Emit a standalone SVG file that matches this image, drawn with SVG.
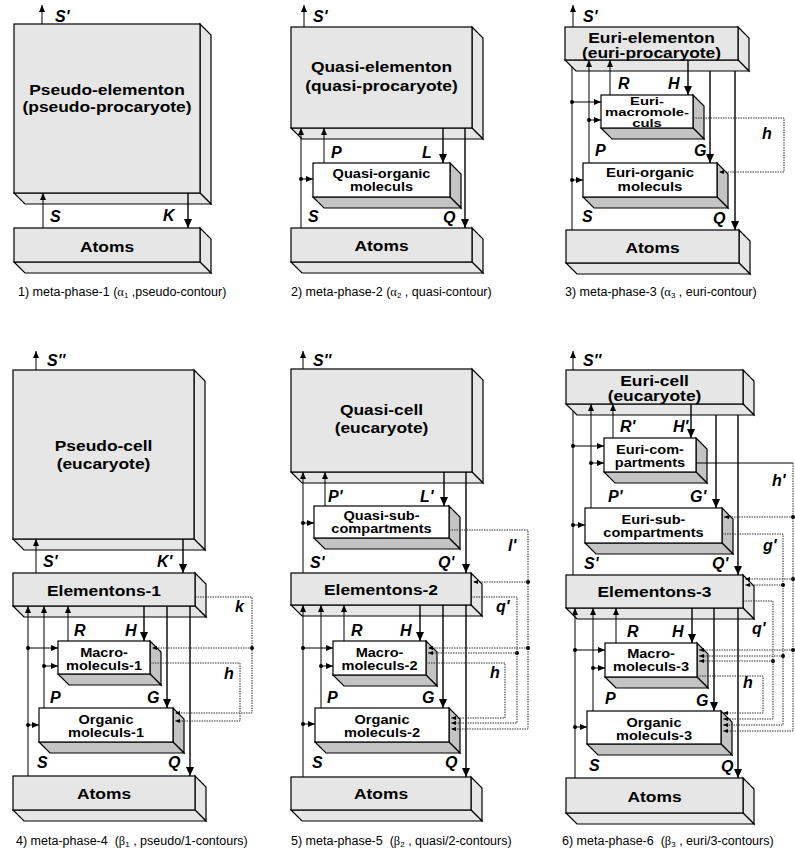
<svg xmlns="http://www.w3.org/2000/svg" width="795" height="854" viewBox="0 0 795 854">
<style>
.g{fill:#e6e6e6;stroke:#000;stroke-width:1.2}
.w{fill:#fff;stroke:#000;stroke-width:1.2}
.ws{fill:#c4c4c4;stroke:#000;stroke-width:1.2}
.ln{fill:none;stroke:#000;stroke-width:1}
.lt{fill:none;stroke:#000;stroke-width:1.4}
.dl{fill:none;stroke:#333;stroke-width:1;stroke-dasharray:1.5 1}
.dot{fill:#000}
text{font-family:"Liberation Sans",Arial,sans-serif;fill:#000}
.t1{font-size:15px;font-weight:bold;text-anchor:middle}
.t2{font-size:13px;font-weight:bold;text-anchor:middle}
.t3{font-size:11px;font-weight:bold;text-anchor:middle}
.lb{font-size:16px;font-weight:bold;font-style:italic}
.cp{font-size:12.5px}
.gr{font-family:"Liberation Serif",serif}
</style>
<defs>
<marker id="ad" viewBox="0 0 9 8" refX="9" refY="4" markerWidth="9" markerHeight="8" markerUnits="userSpaceOnUse" orient="auto"><path d="M0,0L9,4L0,8z"/></marker>
<marker id="au" viewBox="0 0 7 6" refX="7" refY="3" markerWidth="7" markerHeight="6" markerUnits="userSpaceOnUse" orient="auto"><path d="M0,0L7,3L0,6z"/></marker>
<marker id="af" viewBox="0 0 5 4" refX="5" refY="2" markerWidth="5" markerHeight="4" markerUnits="userSpaceOnUse" orient="auto"><path d="M0,0L5,2L0,4z"/></marker>
</defs>

<!-- PANEL 1 -->
<g id="p1-elementon">
<polygon class="g" points="200,24 211,35 211,204 200,193"/><polygon class="g" points="14,193 200,193 211,204 25,204"/><rect class="g" x="14" y="24" width="186" height="169"/>
<text class="t1" transform="translate(107 0) scale(1.16 1)" y="95">Pseudo-elementon</text>
<text class="t1" transform="translate(107 0) scale(1.16 1)" y="112">(pseudo-procaryote)</text>
</g>
<g id="p1-atoms">
<polygon class="g" points="200,228 211,239 211,273 200,262"/><polygon class="g" points="14,262 200,262 211,273 25,273"/><rect class="g" x="14" y="228" width="186" height="34"/>
<text class="t1" transform="translate(107 0) scale(1.16 1)" y="252">Atoms</text>
</g>

<!-- PANEL 2 -->
<g id="p2-elementon">
<polygon class="g" points="472,27 483,38 483,139 472,128"/><polygon class="g" points="291,128 472,128 483,139 302,139"/><rect class="g" x="291" y="27" width="181" height="101"/>
<text class="t1" transform="translate(381.5 0) scale(1.16 1)" y="72">Quasi-elementon</text>
<text class="t1" transform="translate(381.5 0) scale(1.16 1)" y="91">(quasi-procaryote)</text>
</g>
<g id="p2-organic">
<polygon class="ws" points="450,163 461,174 461,208 450,197"/><polygon class="ws" points="313,197 450,197 461,208 324,208"/><rect class="w" x="313" y="163" width="137" height="34"/>
<text class="t2" transform="translate(381.5 0) scale(1.12 1)" y="178">Quasi-organic</text>
<text class="t2" transform="translate(381.5 0) scale(1.12 1)" y="191">moleculs</text>
</g>
<g id="p2-atoms">
<polygon class="g" points="472,228 483,239 483,273 472,262"/><polygon class="g" points="291,262 472,262 483,273 302,273"/><rect class="g" x="291" y="228" width="181" height="34"/>
<text class="t1" transform="translate(381.5 0) scale(1.16 1)" y="251">Atoms</text>
</g>

<!-- PANEL 3 -->
<g id="p3-elementon">
<polygon class="g" points="738,27 749,38 749,71 738,60"/><polygon class="g" points="565,60 738,60 749,71 576,71"/><rect class="g" x="565" y="27" width="173" height="33"/>
<text class="t1" transform="translate(651.5 0) scale(1.16 1)" y="43">Euri-elementon</text>
<text class="t1" transform="translate(651.5 0) scale(1.16 1)" y="58">(euri-procaryote)</text>
</g>
<g id="p3-macro">
<polygon class="ws" points="693,95 704,106 704,139 693,128"/><polygon class="ws" points="601,128 693,128 704,139 612,139"/><rect class="w" x="601" y="95" width="92" height="33"/>
<text class="t3" transform="translate(647 0) scale(1.35 1)" y="105">Euri-</text>
<text class="t3" transform="translate(647 0) scale(1.35 1)" y="116">macromole-</text>
<text class="t3" transform="translate(647 0) scale(1.35 1)" y="127">culs</text>
</g>
<g id="p3-organic">
<polygon class="ws" points="717,163 728,174 728,208 717,197"/><polygon class="ws" points="583,197 717,197 728,208 594,208"/><rect class="w" x="583" y="163" width="134" height="34"/>
<text class="t2" transform="translate(650 0) scale(1.15 1)" y="177">Euri-organic</text>
<text class="t2" transform="translate(650 0) scale(1.15 1)" y="191">moleculs</text>
</g>
<g id="p3-atoms">
<polygon class="g" points="739,230 750,241 750,274 739,263"/><polygon class="g" points="566,263 739,263 750,274 577,274"/><rect class="g" x="566" y="230" width="173" height="33"/>
<text class="t1" transform="translate(652.5 0) scale(1.16 1)" y="253">Atoms</text>
</g>

<!-- PANEL 4 -->
<g id="p4-cell">
<polygon class="g" points="194,370 205,381 205,550 194,539"/><polygon class="g" points="13,539 194,539 205,550 24,550"/><rect class="g" x="13" y="370" width="181" height="169"/>
<text class="t1" transform="translate(103.5 0) scale(1.16 1)" y="451">Pseudo-cell</text>
<text class="t1" transform="translate(103.5 0) scale(1.16 1)" y="469">(eucaryote)</text>
</g>
<g id="p4-elementons">
<polygon class="g" points="195,573 206,584 206,617 195,606"/><polygon class="g" points="13,606 195,606 206,617 24,617"/><rect class="g" x="13" y="573" width="182" height="33"/>
<text class="t1" transform="translate(104 0) scale(1.16 1)" y="596">Elementons-1</text>
</g>
<g id="p4-macro">
<polygon class="ws" points="150,641 161,652 161,685 150,674"/><polygon class="ws" points="58,674 150,674 161,685 69,685"/><rect class="w" x="58" y="641" width="92" height="33"/>
<text class="t2" transform="translate(104 0) scale(1.12 1)" y="657">Macro-</text>
<text class="t2" transform="translate(104 0) scale(1.12 1)" y="670">moleculs-1</text>
</g>
<g id="p4-organic">
<polygon class="ws" points="173,708 184,719 184,753 173,742"/><polygon class="ws" points="39,742 173,742 184,753 50,753"/><rect class="w" x="39" y="708" width="134" height="34"/>
<text class="t2" transform="translate(106 0) scale(1.12 1)" y="724">Organic</text>
<text class="t2" transform="translate(106 0) scale(1.12 1)" y="737">moleculs-1</text>
</g>
<g id="p4-atoms">
<polygon class="g" points="195,776 206,787 206,821 195,810"/><polygon class="g" points="13,810 195,810 206,821 24,821"/><rect class="g" x="13" y="776" width="182" height="34"/>
<text class="t1" transform="translate(104 0) scale(1.16 1)" y="799">Atoms</text>
</g>

<!-- PANEL 5 -->
<g id="p5-cell">
<polygon class="g" points="472,369 483,380 483,483 472,472"/><polygon class="g" points="291,472 472,472 483,483 302,483"/><rect class="g" x="291" y="369" width="181" height="103"/>
<text class="t1" transform="translate(381.5 0) scale(1.16 1)" y="415">Quasi-cell</text>
<text class="t1" transform="translate(381.5 0) scale(1.16 1)" y="433">(eucaryote)</text>
</g>
<g id="p5-subcomp">
<polygon class="ws" points="449,506 460,517 460,549 449,538"/><polygon class="ws" points="314,538 449,538 460,549 325,549"/><rect class="w" x="314" y="506" width="135" height="32"/>
<text class="t2" transform="translate(381.5 0) scale(1.12 1)" y="520">Quasi-sub-</text>
<text class="t2" transform="translate(381.5 0) scale(1.12 1)" y="533">compartments</text>
</g>
<g id="p5-elementons">
<polygon class="g" points="471,573 482,584 482,616 471,605"/><polygon class="g" points="291,605 471,605 482,616 302,616"/><rect class="g" x="291" y="573" width="180" height="32"/>
<text class="t1" transform="translate(381 0) scale(1.16 1)" y="595">Elementons-2</text>
</g>
<g id="p5-macro">
<polygon class="ws" points="426,641 437,652 437,686 426,675"/><polygon class="ws" points="333,675 426,675 437,686 344,686"/><rect class="w" x="333" y="641" width="93" height="34"/>
<text class="t2" transform="translate(379.5 0) scale(1.12 1)" y="657">Macro-</text>
<text class="t2" transform="translate(379.5 0) scale(1.12 1)" y="670">moleculs-2</text>
</g>
<g id="p5-organic">
<polygon class="ws" points="449,708 460,719 460,753 449,742"/><polygon class="ws" points="315,742 449,742 460,753 326,753"/><rect class="w" x="315" y="708" width="134" height="34"/>
<text class="t2" transform="translate(382 0) scale(1.12 1)" y="724">Organic</text>
<text class="t2" transform="translate(382 0) scale(1.12 1)" y="737">moleculs-2</text>
</g>
<g id="p5-atoms">
<polygon class="g" points="471,777 482,788 482,821 471,810"/><polygon class="g" points="291,810 471,810 482,821 302,821"/><rect class="g" x="291" y="777" width="180" height="33"/>
<text class="t1" transform="translate(381 0) scale(1.16 1)" y="799">Atoms</text>
</g>

<!-- PANEL 6 -->
<g id="p6-cell">
<polygon class="g" points="743,370 754,381 754,415 743,404"/><polygon class="g" points="566,404 743,404 754,415 577,415"/><rect class="g" x="566" y="370" width="177" height="34"/>
<text class="t1" transform="translate(654.5 0) scale(1.16 1)" y="386">Euri-cell</text>
<text class="t1" transform="translate(654.5 0) scale(1.16 1)" y="401">(eucaryote)</text>
</g>
<g id="p6-compartments">
<polygon class="ws" points="696,438 707,449 707,483 696,472"/><polygon class="ws" points="604,472 696,472 707,483 615,483"/><rect class="w" x="604" y="438" width="92" height="34"/>
<text class="t2" transform="translate(650 0) scale(1.12 1)" y="454">Euri-com-</text>
<text class="t2" transform="translate(650 0) scale(1.12 1)" y="467">partments</text>
</g>
<g id="p6-subcomp">
<polygon class="ws" points="722,508 733,519 733,554 722,543"/><polygon class="ws" points="585,543 722,543 733,554 596,554"/><rect class="w" x="585" y="508" width="137" height="35"/>
<text class="t2" transform="translate(653.5 0) scale(1.12 1)" y="524">Euri-sub-</text>
<text class="t2" transform="translate(653.5 0) scale(1.12 1)" y="537">compartments</text>
</g>
<g id="p6-elementons">
<polygon class="g" points="743,575 754,586 754,619 743,608"/><polygon class="g" points="566,608 743,608 754,619 577,619"/><rect class="g" x="566" y="575" width="177" height="33"/>
<text class="t1" transform="translate(654.5 0) scale(1.16 1)" y="597">Elementons-3</text>
</g>
<g id="p6-macro">
<polygon class="ws" points="697,643 708,654 708,688 697,677"/><polygon class="ws" points="605,677 697,677 708,688 616,688"/><rect class="w" x="605" y="643" width="92" height="34"/>
<text class="t2" transform="translate(651 0) scale(1.12 1)" y="658">Macro-</text>
<text class="t2" transform="translate(651 0) scale(1.12 1)" y="671">moleculs-3</text>
</g>
<g id="p6-organic">
<polygon class="ws" points="721,711 732,722 732,755 721,744"/><polygon class="ws" points="587,744 721,744 732,755 598,755"/><rect class="w" x="587" y="711" width="134" height="33"/>
<text class="t2" transform="translate(654 0) scale(1.12 1)" y="727">Organic</text>
<text class="t2" transform="translate(654 0) scale(1.12 1)" y="740">moleculs-3</text>
</g>
<g id="p6-atoms">
<polygon class="g" points="743,778 754,789 754,824 743,813"/><polygon class="g" points="566,813 743,813 754,824 577,824"/><rect class="g" x="566" y="778" width="177" height="35"/>
<text class="t1" transform="translate(654.5 0) scale(1.16 1)" y="802">Atoms</text>
</g>

<g id="connectors">
<!-- P1 -->
<line class="ln" x1="42" y1="24" x2="42" y2="5" marker-end="url(#au)"/>
<line class="ln" x1="43" y1="228" x2="43" y2="193" marker-end="url(#au)"/>
<line class="lt" x1="188" y1="193" x2="188" y2="228" marker-end="url(#ad)"/>
<!-- P2 -->
<line class="ln" x1="304" y1="27" x2="304" y2="5" marker-end="url(#au)"/>
<line class="ln" x1="301" y1="228" x2="301" y2="128" marker-end="url(#au)"/>
<line class="ln" x1="324" y1="163" x2="324" y2="128" marker-end="url(#au)"/>
<line class="lt" x1="443" y1="128" x2="443" y2="163" marker-end="url(#ad)"/>
<line class="lt" x1="465" y1="128" x2="465" y2="228" marker-end="url(#ad)"/>
<circle class="dot" cx="301" cy="179" r="2"/><line class="ln" x1="301" y1="179" x2="313" y2="179" marker-end="url(#au)"/>
<!-- P3 -->
<line class="ln" x1="573" y1="27" x2="573" y2="5" marker-end="url(#au)"/>
<line class="ln" x1="572" y1="230" x2="572" y2="67"/>
<line class="ln" x1="589" y1="163" x2="589" y2="60" marker-end="url(#au)"/>
<line class="ln" x1="610" y1="95" x2="610" y2="60" marker-end="url(#au)"/>
<line class="lt" x1="688" y1="60" x2="688" y2="95" marker-end="url(#ad)"/>
<line class="lt" x1="710" y1="71" x2="710" y2="163" marker-end="url(#ad)"/>
<line class="lt" x1="735" y1="71" x2="735" y2="230" marker-end="url(#ad)"/>
<circle class="dot" cx="572" cy="102" r="2"/><line class="ln" x1="572" y1="102" x2="601" y2="102" marker-end="url(#au)"/>
<circle class="dot" cx="589" cy="120" r="2"/><line class="ln" x1="589" y1="120" x2="601" y2="120" marker-end="url(#au)"/>
<circle class="dot" cx="572" cy="180" r="2"/><line class="ln" x1="572" y1="180" x2="583" y2="180" marker-end="url(#au)"/>
<path class="dl" d="M693,118H784V172H719" marker-end="url(#af)"/>
<!-- P4 -->
<line class="ln" x1="36" y1="370" x2="36" y2="351" marker-end="url(#au)"/>
<line class="ln" x1="36" y1="573" x2="36" y2="539" marker-end="url(#au)"/>
<line class="lt" x1="183" y1="539" x2="183" y2="573" marker-end="url(#ad)"/>
<line class="ln" x1="28" y1="776" x2="28" y2="606" marker-end="url(#au)"/>
<line class="ln" x1="44" y1="708" x2="44" y2="606" marker-end="url(#au)"/>
<line class="ln" x1="68" y1="641" x2="68" y2="606" marker-end="url(#au)"/>
<line class="lt" x1="144" y1="606" x2="144" y2="641" marker-end="url(#ad)"/>
<line class="lt" x1="167" y1="606" x2="167" y2="708" marker-end="url(#ad)"/>
<line class="lt" x1="190" y1="606" x2="190" y2="776" marker-end="url(#ad)"/>
<circle class="dot" cx="28" cy="648" r="2"/><line class="ln" x1="28" y1="648" x2="58" y2="648" marker-end="url(#au)"/>
<circle class="dot" cx="44" cy="666" r="2"/><line class="ln" x1="44" y1="666" x2="58" y2="666" marker-end="url(#au)"/>
<circle class="dot" cx="28" cy="725" r="2"/><line class="ln" x1="28" y1="725" x2="39" y2="725" marker-end="url(#au)"/>
<path class="dl" d="M195,597H252V713H175" marker-end="url(#af)"/>
<circle class="dot" cx="252" cy="648" r="2"/><path class="dl" d="M252,648H152" marker-end="url(#af)"/>
<path class="dl" d="M150,663H240V721H175" marker-end="url(#af)"/>
<!-- P5 -->
<line class="ln" x1="303" y1="369" x2="303" y2="351" marker-end="url(#au)"/>
<line class="ln" x1="303" y1="573" x2="303" y2="472" marker-end="url(#au)"/>
<line class="ln" x1="325" y1="506" x2="325" y2="472" marker-end="url(#au)"/>
<line class="lt" x1="444" y1="472" x2="444" y2="506" marker-end="url(#ad)"/>
<line class="lt" x1="466" y1="472" x2="466" y2="573" marker-end="url(#ad)"/>
<circle class="dot" cx="303" cy="523" r="2"/><line class="ln" x1="303" y1="523" x2="314" y2="523" marker-end="url(#au)"/>
<line class="ln" x1="303" y1="777" x2="303" y2="605" marker-end="url(#au)"/>
<line class="ln" x1="321" y1="708" x2="321" y2="605" marker-end="url(#au)"/>
<line class="ln" x1="344" y1="641" x2="344" y2="605" marker-end="url(#au)"/>
<line class="lt" x1="420" y1="605" x2="420" y2="641" marker-end="url(#ad)"/>
<line class="lt" x1="443" y1="605" x2="443" y2="708" marker-end="url(#ad)"/>
<line class="lt" x1="466" y1="605" x2="466" y2="777" marker-end="url(#ad)"/>
<circle class="dot" cx="303" cy="648" r="2"/><line class="ln" x1="303" y1="648" x2="333" y2="648" marker-end="url(#au)"/>
<circle class="dot" cx="321" cy="666" r="2"/><line class="ln" x1="321" y1="666" x2="333" y2="666" marker-end="url(#au)"/>
<circle class="dot" cx="303" cy="724" r="2"/><line class="ln" x1="303" y1="724" x2="315" y2="724" marker-end="url(#au)"/>
<path class="dl" d="M449,530H528V729H451" marker-end="url(#af)"/>
<circle class="dot" cx="528" cy="582" r="2"/><path class="dl" d="M528,582H473" marker-end="url(#af)"/>
<circle class="dot" cx="528" cy="648" r="2"/><path class="dl" d="M528,648H428" marker-end="url(#af)"/>
<path class="dl" d="M471,597H517V723H451" marker-end="url(#af)"/>
<circle class="dot" cx="517" cy="653" r="2"/><path class="dl" d="M517,653H428" marker-end="url(#af)"/>
<path class="dl" d="M426,663H505V718H451" marker-end="url(#af)"/>
<!-- P6 -->
<line class="ln" x1="573" y1="370" x2="573" y2="351" marker-end="url(#au)"/>
<line class="ln" x1="573" y1="575" x2="573" y2="411"/>
<line class="ln" x1="591" y1="508" x2="591" y2="404" marker-end="url(#au)"/>
<line class="ln" x1="613" y1="438" x2="613" y2="404" marker-end="url(#au)"/>
<line class="lt" x1="691" y1="404" x2="691" y2="438" marker-end="url(#ad)"/>
<line class="lt" x1="716" y1="415" x2="716" y2="508" marker-end="url(#ad)"/>
<line class="lt" x1="738" y1="415" x2="738" y2="575" marker-end="url(#ad)"/>
<circle class="dot" cx="573" cy="446" r="2"/><line class="ln" x1="573" y1="446" x2="604" y2="446" marker-end="url(#au)"/>
<circle class="dot" cx="591" cy="463" r="2"/><line class="ln" x1="591" y1="463" x2="604" y2="463" marker-end="url(#au)"/>
<circle class="dot" cx="573" cy="525" r="2"/><line class="ln" x1="573" y1="525" x2="585" y2="525" marker-end="url(#au)"/>
<line class="ln" x1="575" y1="778" x2="575" y2="608" marker-end="url(#au)"/>
<line class="ln" x1="593" y1="711" x2="593" y2="608" marker-end="url(#au)"/>
<line class="ln" x1="616" y1="643" x2="616" y2="608" marker-end="url(#au)"/>
<line class="lt" x1="692" y1="608" x2="692" y2="643" marker-end="url(#ad)"/>
<line class="lt" x1="714" y1="608" x2="714" y2="711" marker-end="url(#ad)"/>
<line class="lt" x1="738" y1="608" x2="738" y2="778" marker-end="url(#ad)"/>
<circle class="dot" cx="575" cy="650" r="2"/><line class="ln" x1="575" y1="650" x2="605" y2="650" marker-end="url(#au)"/>
<circle class="dot" cx="593" cy="668" r="2"/><line class="ln" x1="593" y1="668" x2="605" y2="668" marker-end="url(#au)"/>
<circle class="dot" cx="575" cy="727" r="2"/><line class="ln" x1="575" y1="727" x2="587" y2="727" marker-end="url(#au)"/>
<path class="ln" d="M696,463H793"/>
<path class="dl" d="M793,463V731H723" marker-end="url(#af)"/>
<circle class="dot" cx="793" cy="517" r="2"/><path class="dl" d="M793,517H724" marker-end="url(#af)"/>
<circle class="dot" cx="793" cy="579" r="2"/><path class="dl" d="M793,579H745" marker-end="url(#af)"/>
<circle class="dot" cx="793" cy="650" r="2"/><path class="dl" d="M793,650H699" marker-end="url(#af)"/>
<path class="dl" d="M722,534H783V725H723" marker-end="url(#af)"/>
<circle class="dot" cx="783" cy="585" r="2"/><path class="dl" d="M783,585H745" marker-end="url(#af)"/>
<circle class="dot" cx="783" cy="656" r="2"/><path class="dl" d="M783,656H699" marker-end="url(#af)"/>
<path class="dl" d="M743,601H773V719H723" marker-end="url(#af)"/>
<circle class="dot" cx="773" cy="661" r="2"/><path class="dl" d="M773,661H699" marker-end="url(#af)"/>
<path class="dl" d="M697,676H763V713H723" marker-end="url(#af)"/>
</g>

<g id="labels">
<text class="lb" x="55" y="22">S'</text>
<text class="lb" x="50" y="222">S</text>
<text class="lb" x="163" y="221">K</text>
<text class="lb" x="313" y="22">S'</text>
<text class="lb" x="331" y="158">P</text>
<text class="lb" x="422" y="158">L</text>
<text class="lb" x="308" y="222">S</text>
<text class="lb" x="443" y="223">Q</text>
<text class="lb" x="583" y="22">S'</text>
<text class="lb" x="618" y="89">R</text>
<text class="lb" x="668" y="89">H</text>
<text class="lb" x="762" y="139">h</text>
<text class="lb" x="595" y="156">P</text>
<text class="lb" x="694" y="156">G</text>
<text class="lb" x="582" y="222">S</text>
<text class="lb" x="713" y="224">Q</text>
<text class="lb" x="47" y="366">S''</text>
<text class="lb" x="43" y="567">S'</text>
<text class="lb" x="157" y="567">K'</text>
<text class="lb" x="235" y="612">k</text>
<text class="lb" x="74" y="636">R</text>
<text class="lb" x="125" y="636">H</text>
<text class="lb" x="224" y="679">h</text>
<text class="lb" x="50" y="703">P</text>
<text class="lb" x="147" y="703">G</text>
<text class="lb" x="37" y="768">S</text>
<text class="lb" x="168" y="768">Q</text>
<text class="lb" x="313" y="366">S''</text>
<text class="lb" x="328" y="502">P'</text>
<text class="lb" x="420" y="502">L'</text>
<text class="lb" x="508" y="551">l'</text>
<text class="lb" x="310" y="568">S'</text>
<text class="lb" x="438" y="568">Q'</text>
<text class="lb" x="496" y="612">q'</text>
<text class="lb" x="351" y="636">R</text>
<text class="lb" x="400" y="636">H</text>
<text class="lb" x="490" y="678">h</text>
<text class="lb" x="327" y="703">P</text>
<text class="lb" x="422" y="703">G</text>
<text class="lb" x="312" y="768">S</text>
<text class="lb" x="445" y="768">Q</text>
<text class="lb" x="583" y="366">S''</text>
<text class="lb" x="620" y="432">R'</text>
<text class="lb" x="673" y="432">H'</text>
<text class="lb" x="772" y="486">h'</text>
<text class="lb" x="608" y="502">P'</text>
<text class="lb" x="690" y="502">G'</text>
<text class="lb" x="763" y="551">g'</text>
<text class="lb" x="584" y="569">S'</text>
<text class="lb" x="712" y="569">Q'</text>
<text class="lb" x="752" y="634">q'</text>
<text class="lb" x="627" y="637">R</text>
<text class="lb" x="672" y="637">H</text>
<text class="lb" x="743" y="688">h</text>
<text class="lb" x="605" y="704">P</text>
<text class="lb" x="696" y="706">G</text>
<text class="lb" x="589" y="771">S</text>
<text class="lb" x="721" y="772">Q</text>
</g>

<g id="captions">
<text class="cp" x="18" y="296">1) meta-phase-1 (<tspan class="gr">α</tspan><tspan font-size="8" dy="2">1</tspan><tspan dy="-2"> ,pseudo-contour)</tspan></text>
<text class="cp" x="291" y="296">2) meta-phase-2 (<tspan class="gr">α</tspan><tspan font-size="8" dy="2">2</tspan><tspan dy="-2"> , quasi-contour)</tspan></text>
<text class="cp" x="565" y="296">3) meta-phase-3 (<tspan class="gr">α</tspan><tspan font-size="8" dy="2">3</tspan><tspan dy="-2"> , euri-contour)</tspan></text>
<text class="cp" x="16" y="845">4) meta-phase-4&#160; (<tspan class="gr">β</tspan><tspan font-size="8" dy="2">1</tspan><tspan dy="-2"> , pseudo/1-contours)</tspan></text>
<text class="cp" x="291" y="845">5) meta-phase-5&#160; (<tspan class="gr">β</tspan><tspan font-size="8" dy="2">2</tspan><tspan dy="-2"> , quasi/2-contours)</tspan></text>
<text class="cp" x="562" y="845">6) meta-phase-6&#160; (<tspan class="gr">β</tspan><tspan font-size="8" dy="2">3</tspan><tspan dy="-2"> , euri/3-contours)</tspan></text>
</g>
</svg>
